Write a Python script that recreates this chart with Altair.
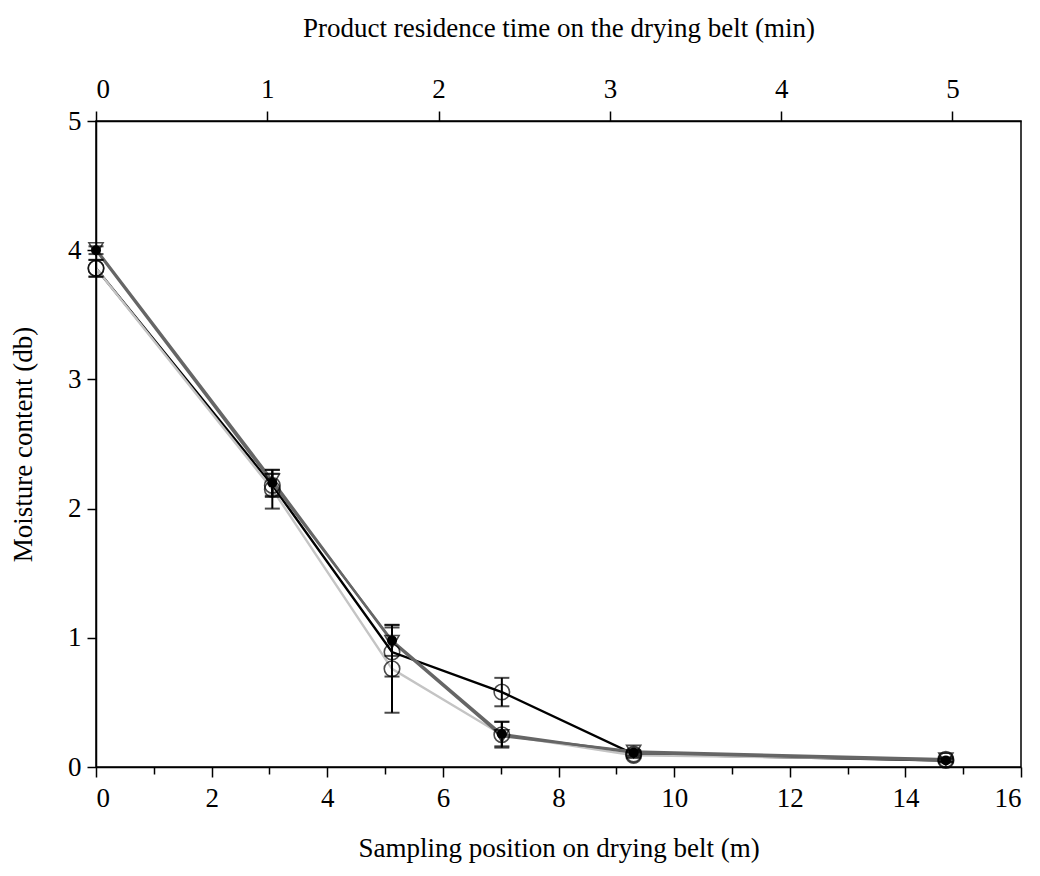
import altair as alt
import pandas as pd

# ---------------- data ----------------
positions = [0.0, 3.05, 5.12, 7.02, 9.3, 14.7]

a_vals = [3.86, 2.18, 0.89, 0.58, 0.10, 0.05]
a_err = [0.065, 0.09, 0.19, 0.11, 0.02, 0.015]

b_vals = [3.86, 2.15, 0.76, 0.25, 0.09, 0.06]
b_err = [0.065, 0.15, 0.34, 0.10, 0.02, 0.015]

c_vals = [4.00, 2.20, 0.98, 0.255, 0.11, 0.05]
c_err = [0.03, 0.10, 0.12, 0.095, 0.02, 0.01]

d_vals = [4.01, 2.22, 0.97, 0.24, 0.12, 0.06]

series_names = ["A", "B", "C", "D"]
series_vals = [a_vals, b_vals, c_vals, d_vals]
series_errs = [a_err, b_err, c_err, [0, 0, 0, 0, 0, 0]]
line_colors = ["#000000", "#c4c4c4", "#666666", "#666666"]

x_ticks = list(range(0, 17))
y_ticks = [i * 0.5 for i in range(11)]
top_ticks = [i * 0.5 for i in range(11)]
top_domain = [0, 5.4]

rows = []
for name, vals, errs in zip(series_names, series_vals, series_errs):
    for p, v, e in zip(positions, vals, errs):
        rows.append({"series": name, "x": p, "y": v, "err": e,
                     "lo": v - e, "hi": v + e})
df = pd.DataFrame(rows)
df_err = df[df["err"] > 0]

FONT = "Liberation Serif"
FS = 27

x_enc = alt.X(
    "x:Q",
    scale=alt.Scale(domain=[0, 16], nice=False, zero=False),
    axis=alt.Axis(
        values=x_ticks,
        format="d",
        labelExpr="datum.value % 2 === 0 ? datum.label : ''",
        tickSize={"condition": {"test": "datum.value % 2 === 0", "value": 10}, "value": 7},
        title="Sampling position on drying belt (m)",
        labelPadding=8,
        titlePadding=24,
        grid=False,
    ),
)
y_scale = alt.Scale(domain=[0, 5], nice=False, zero=False)
y_enc = alt.Y(
    "y:Q",
    scale=y_scale,
    axis=alt.Axis(
        values=y_ticks,
        format="d",
        labelExpr="datum.value % 1 === 0 ? datum.label : ''",
        tickSize={"condition": {"test": "datum.value % 1 === 0", "value": 9}, "value": 6},
        title="Moisture content (db)",
        labelPadding=6,
        titlePadding=30,
        grid=False,
    ),
)
color_scale = alt.Scale(domain=series_names, range=line_colors)

base = alt.Chart(df)

lines = base.mark_line(strokeWidth=2.4).encode(
    x=x_enc, y=y_enc,
    color=alt.Color("series:N", scale=color_scale, legend=None),
    order="x:Q",
)

err_rule = alt.Chart(df_err).mark_rule(color="black", strokeWidth=2).encode(
    x="x:Q", y=alt.Y("lo:Q", scale=y_scale), y2="hi:Q"
)
cap_lo = alt.Chart(df_err).mark_point(
    shape="M-1,0H1", size=225, color="black", strokeWidth=2, filled=False
).encode(x="x:Q", y=alt.Y("lo:Q", scale=y_scale))
cap_hi = alt.Chart(df_err).mark_point(
    shape="M-1,0H1", size=225, color="black", strokeWidth=2, filled=False
).encode(x="x:Q", y=alt.Y("hi:Q", scale=y_scale))

open_circles = alt.Chart(df[df["series"].isin(["A", "B"])]).mark_point(
    shape="circle", size=240, color="black", strokeWidth=1.6, filled=False
).encode(x="x:Q", y="y:Q")

filled_dots = alt.Chart(df[df["series"] == "C"]).mark_point(
    shape="circle", size=100, color="black", filled=True, opacity=1
).encode(x="x:Q", y="y:Q")

triangles = alt.Chart(df[df["series"] == "D"]).mark_point(
    shape="triangle-down", size=200, color="black", strokeWidth=1.6, filled=False
).encode(x="x:Q", y="y:Q")

inner = alt.layer(lines, err_rule, cap_lo, cap_hi, filled_dots, triangles, open_circles)

top_df = pd.DataFrame({"t": top_domain})
top_layer = alt.Chart(top_df).mark_point(opacity=0).encode(
    x=alt.X(
        "t:Q",
        scale=alt.Scale(domain=top_domain, nice=False, zero=False),
        axis=alt.Axis(
            orient="top",
            values=top_ticks,
            format="d",
            labelExpr="datum.value % 1 === 0 ? datum.label : ''",
            tickSize={"condition": {"test": "datum.value % 1 === 0", "value": 10}, "value": 7},
            title="Product residence time on the drying belt (min)",
            labelPadding=8,
            titlePadding=33,
            grid=False,
        ),
    ),
    y=alt.value(0),
)

chart = (
    alt.layer(inner, top_layer)
    .resolve_scale(x="independent")
    .properties(
        width=925,
        height=646,
        autosize=alt.AutoSizeParams(type="none"),
        padding={"left": 88, "top": 113, "right": 11, "bottom": 100},
    )
    .configure_view(stroke="black", strokeWidth=1.5)
    .configure_axis(
        domainColor="black",
        domainWidth=1.5,
        tickColor="black",
        tickWidth=1.5,
        labelFont=FONT,
        titleFont=FONT,
        labelFontSize=FS,
        titleFontSize=FS,
        labelColor="black",
        titleColor="black",
        titleFontWeight="normal",
        labelOverlap=False,
    )
)

chart.save("out.html", embed_options={"renderer": "svg", "actions": False})
